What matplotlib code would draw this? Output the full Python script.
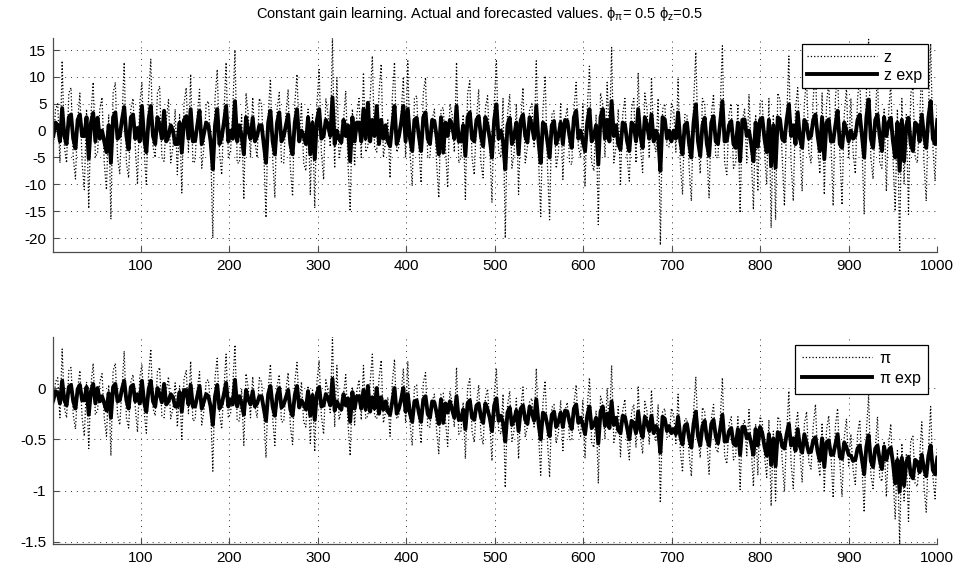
import numpy as np
import matplotlib
matplotlib.use("Agg")
import matplotlib.pyplot as plt

plt.rcParams['font.family'] = ['Liberation Sans', 'DejaVu Sans']
plt.rcParams['mathtext.fontset'] = 'custom'
plt.rcParams['mathtext.rm'] = 'Liberation Sans'
plt.rcParams['mathtext.it'] = 'Liberation Sans'

title = r"Constant gain learning. Actual and forecasted values. $\phi_{\pi}$= 0.5 $\phi_{z}$=0.5"
xticks = [100, 200, 300, 400, 500, 600, 700, 800, 900, 1000]
yticks_top = [-20, -15, -10, -5, 0, 5, 10, 15]
yticks_bot = [-1.5, -1, -0.5, 0]
labels_top = ['z', 'z exp']
labels_bot = [r'$\pi$', r'$\pi$ exp']

z_act = [
    -3, 4, 5, -6, 13, -3, -6, 7, 8, -5, -9, 2, 7, -6, -11, 4, -14.5, 3, 9, -5,
    -4, 4, 6.2, -6, -11, 3, -16.5, 7, 9, -5, -8, 2, 12.7, -6, -8.8, 4, 6, -3, -10, 5,
    9, -4, -10, 6, 13.3, -3, -5, 7, 8.3, -5, -5.7, 2, 5.8, -6, -3, 4, -8.2, 3, -11.6, 5,
    8, -4, 10.5, -6, -5.7, 3, 7.7, -7, -3, 5, 5.5, -2, -20, 6, 11.4, -4, -8.2, 3, 12.7, -5,
    -4, 4, 15, -6, -6, 3, -12.8, 7, 3, -5, 6.2, -2, -5, 6, 4.9, -4, -16.2, 3, 9.6, -5,
    -12.5, 4, 7.1, -6, -6, 3, 7.7, -7, -12.2, 5, 10.5, -2, 5, -6, -7.5, 4, -11.9, 3, -14.4, 5,
    11.4, -4, -9.1, 6, 3, -3, 17.2, -7, 9.9, -5, -2.5, 2, 7.4, -6, -15, 4, -6.6, 3, 6, -5,
    10.8, -4, -3, 6, 13.9, -3, -4, 7, 12.4, -5, -2, 2, -8.8, 6, 12.7, -4, -3, 3, 10, -5,
    13, -4, -10.3, 6, 6.5, -3, -9.7, 7, 9.9, -5, -5, 2, 4, -6, -12.5, 4, 4.3, -3, -10.6, 5,
    3, -4, 12.7, -6, -5, 3, -12.8, 7, 9.3, -5, -8.2, 2, 7.7, -6, -8.8, 4, 6.5, -3, -13.4, 5,
    13, -4, -5, 6, -20, 3, 6.8, -7, -4, 5, -11.9, 2, 8, -6, -3, 4, 5, -3, 13, -5,
    -16, 4, 10.2, -6, -16.6, 3, 3.7, -7, -4, 5, -9.1, 2, 4.3, -6, -6.3, 4, 9, -3, -5, 5,
    -10.3, 4, 12, -6, -7.5, 3, -17.5, 7, 5, -5, 9, -2, 15.5, -6, -3, 4, -10, 3, 6, -5,
    -9.4, 4, 6, -6, 10.8, -3, -7.8, 7, 4, -5, 9.9, -2, -4, 6, -21.3, 4, 5, -3, -3, 5,
    4, -4, 9.6, -6, -11.9, 3, 3, -7, -13.1, 5, 14.6, -2, -8, 6, 5, -4, -12.5, 3, 6.8, -5,
    -5, 4, 15.8, -6, -8.2, 3, 5, -7, -6, 5, -15.3, 2, 4, -6, 6.8, -4, -14.7, 3, -11.3, 5,
    5.5, -4, -10, 6, -18.1, 3, -16.6, 7, 5.8, -5, -14, 2, 13.9, -6, -13.1, 4, 8, -3, -11.3, 5,
    10, -4, -6, 6, 12, -3, -8, 7, -11.9, 5, 9, -2, -14, 6, 11, -4, -13.8, 3, 8, -5,
    6, -4, -8, 6, 10, -3, -15.6, 7, 17, -5, -9, 2, 11, -6, -7, 4, -11.3, 3, 9, -5,
    -15, 4, -22.6, 6, -10, 3, -15.6, 7, 8, -5, -6, 2, 12, -6, -13.1, 4, 16.2, -3, -9.4, 5]

z_exp = [
    -1, 1.5, 1, -2, 4.2, -1, -2.5, 2.5, 3, -1.5, -3.3, 2, 3, -1, -1, 2.5, -5.2, 1.5, 3.3, -2,
    2.4, -1.5, 0, -2, -4, 1, -6, 2.5, 3.4, -1.5, -1, 2, 4.4, -1, -3.5, 2.5, 3, -1.5, 0.5, -2,
    4.6, -1.5, -4, 2, 4.6, -1, -2.5, 2.5, 1, -1.5, 3.7, -2, -1, 1, 0, -2.5, -2.5, 1.5, -4.1, 2,
    2.7, -1.5, 4, -2, -1.9, 1, 3.7, -2.5, -0.5, 1.5, 1, -2, -7.2, 1, 4, -2.5, -1.3, 1.5, 4.6, -2,
    0, -1.5, 5.5, -2, 1, -1, -4.4, 2.5, 0, -1.5, 2.4, -2, -1, 1, 1, -2.5, -6, 1.5, 3.7, -2,
    -4.4, 1.5, 3.4, -2, -1, 1, 3, -2.5, -4.4, 1.5, 4, -2, 0, -1, -2.5, 2.5, -4.4, 1.5, -5.3, 2,
    4, -1.5, -1, 2, 1, -1, 6.2, -2.5, 0, -1.5, -2.2, 2, -1, 1, -5.7, 2.5, -2, 1.5, 1.5, -2,
    4, -1.5, 5.2, -2, 2, -1, 4.6, -2.5, 2, -1.5, 1, -2, -2.9, 1, 4.6, -2.5, -1, 1.5, 4.6, -2,
    4, -1.5, -3.8, 2, 2.4, -1, -3.8, 2.5, 3.4, -1.5, -2.5, 2, 1.8, -1, -4.4, 2.5, -4.1, 1.5, -1, 2,
    1, -1.5, 4.6, -2, -2, 1, -4.7, 2.5, 3.4, -1.5, -2, 2, 2.7, -1, -2.9, 2.5, 1, -1.5, -5, 2,
    4.9, -1.5, 0, -2, -7.2, 1, 2.4, -2.5, -1, 1.5, -4.4, 2, 3, -1, -2.2, 2.5, 1, -1.5, 4.6, -2,
    -6, 1.5, 1, -2, -5, 1, 1.8, -2.5, -1, 1.5, -2.5, 2, 1.8, -1, -3.2, 2.5, 3.7, -1.5, 0, -2,
    -3.8, 1.5, 4, -2, -1, 1, -6.3, 2.5, 4, -1.5, 2, -2, 5.5, -1, 1, -2.5, -3.5, 1.5, 1.2, -2,
    -3.8, 1.5, 1, -2, 4, -1, -3.2, 2.5, 1, -1.5, 3, -2, 0, -1, -7.5, 2.5, 2.1, -1.5, 0, -2,
    0, -1.5, 3.4, -2, -4.4, 1, 1.5, -2.5, -5, 1.5, 4.9, -2, -4.7, 1, 2.4, -2.5, -4.7, 1.5, 2.7, -2,
    -2.5, 1.5, 5.5, -2, -1.9, 1, 1.8, -2.5, -3.2, 1.5, -5.7, 2, 2.1, -1, 0, -2.5, -5.7, 1.5, -3, 2,
    2.4, -1.5, -4, 2, -6.6, 1, -6.9, 2.5, 2.1, -1.5, -2, 2, 4.9, -1, 1, -2.5, 3.4, -1.5, -3.2, 2,
    1.2, -1.5, -1, 2, 3, -1, -3.8, 2.5, -5.3, 1.5, 2.1, -2, -2, 1, 3.7, -2.5, -3.2, 1.5, 0, -2,
    0, -1.5, -1, 2, 3, -1, -5, 2.5, 5.8, -1.5, -3.2, 2, 3, -1, -3.8, 2.5, -1, 1.5, 2.4, -2,
    -5, 1.5, -7.5, 2, -5.7, 1, 2.4, -2.5, -3.8, 1.5, 1, -2, 3, -1, -3.2, 2.5, 5.5, -1.5, -2.5, 2]

pi_act = [
    -0.19, 0.06, 0.10, -0.29, 0.38, -0.19, -0.29, 0.17, 0.20, -0.26, -0.40, -0.01, 0.17, -0.29, -0.47, 0.06, -0.59, 0.03, 0.24, -0.26,
    -0.22, 0.06, 0.14, -0.29, -0.47, 0.03, -0.66, 0.17, 0.24, -0.26, -0.36, -0.01, 0.36, -0.29, -0.39, 0.06, 0.13, -0.19, -0.43, 0.10,
    0.23, -0.23, -0.44, 0.12, 0.38, -0.20, -0.27, 0.16, 0.20, -0.27, -0.29, -0.02, 0.11, -0.30, -0.20, 0.05, -0.38, 0.02, -0.50, 0.09,
    0.17, -0.25, 0.26, -0.32, -0.31, -0.01, 0.16, -0.36, -0.22, 0.07, 0.08, -0.18, -0.81, 0.10, 0.29, -0.25, -0.40, -0.01, 0.33, -0.29,
    -0.25, 0.03, 0.42, -0.32, -0.32, -0.01, -0.56, 0.14, 0.00, -0.29, 0.11, -0.18, -0.29, 0.10, 0.06, -0.25, -0.68, -0.01, 0.23, -0.29,
    -0.56, 0.02, 0.13, -0.33, -0.33, -0.02, 0.15, -0.37, -0.55, 0.06, 0.25, -0.19, 0.06, -0.33, -0.38, 0.02, -0.54, -0.02, -0.62, 0.06,
    0.27, -0.27, -0.45, 0.08, -0.03, -0.24, 0.50, -0.38, 0.22, -0.31, -0.22, -0.06, 0.13, -0.34, -0.66, 0.01, -0.36, -0.03, 0.08, -0.31,
    0.22, -0.30, -0.27, 0.05, 0.33, -0.27, -0.30, 0.09, 0.27, -0.34, -0.23, -0.09, -0.47, 0.05, 0.28, -0.30, -0.27, -0.06, 0.19, -0.34,
    0.26, -0.34, -0.56, 0.01, 0.03, -0.31, -0.54, 0.05, 0.15, -0.38, -0.38, -0.13, -0.06, -0.41, -0.64, -0.06, -0.05, -0.31, -0.57, -0.03,
    -0.14, -0.38, 0.20, -0.45, -0.42, -0.14, -0.69, 0.01, 0.09, -0.42, -0.53, -0.17, 0.03, -0.45, -0.55, -0.10, -0.01, -0.35, -0.71, -0.07,
    0.19, -0.41, -0.45, -0.06, -0.97, -0.17, -0.03, -0.52, -0.41, -0.10, -0.69, -0.20, 0.01, -0.48, -0.38, -0.13, -0.10, -0.38, 0.19, -0.45,
    -0.85, -0.15, 0.07, -0.50, -0.87, -0.19, -0.16, -0.54, -0.43, -0.12, -0.61, -0.22, -0.14, -0.50, -0.51, -0.15, 0.03, -0.40, -0.47, -0.12,
    -0.68, -0.18, 0.10, -0.53, -0.58, -0.22, -0.93, -0.08, -0.15, -0.50, 0.00, -0.39, 0.22, -0.53, -0.43, -0.18, -0.67, -0.22, -0.11, -0.50,
    -0.70, -0.23, -0.16, -0.58, 0.01, -0.48, -0.64, -0.13, -0.23, -0.55, -0.02, -0.44, -0.51, -0.16, -1.12, -0.23, -0.20, -0.48, -0.48, -0.20,
    -0.26, -0.54, -0.06, -0.61, -0.82, -0.30, -0.30, -0.65, -0.86, -0.23, 0.11, -0.47, -0.68, -0.19, -0.23, -0.54, -0.84, -0.30, -0.16, -0.58,
    -0.63, -0.31, 0.10, -0.66, -0.74, -0.35, -0.28, -0.70, -0.66, -0.28, -0.99, -0.38, -0.31, -0.66, -0.21, -0.59, -0.96, -0.35, -0.85, -0.28,
    -0.33, -0.66, -0.87, -0.31, -1.15, -0.42, -1.10, -0.28, -0.32, -0.70, -1.01, -0.45, -0.03, -0.73, -0.98, -0.38, -0.24, -0.63, -0.92, -0.35,
    -0.23, -0.72, -0.79, -0.37, -0.16, -0.69, -0.86, -0.34, -1.00, -0.41, -0.27, -0.65, -1.07, -0.37, -0.20, -0.72, -1.06, -0.48, -0.30, -0.76,
    -0.45, -0.80, -0.94, -0.45, -0.31, -0.77, -1.21, -0.42, -0.07, -0.84, -0.98, -0.59, -0.28, -0.87, -0.91, -0.52, -1.06, -0.56, -0.35, -0.84,
    -1.28, -0.61, -1.52, -0.54, -1.10, -0.65, -1.30, -0.51, -0.47, -0.93, -0.96, -0.68, -0.33, -0.96, -1.21, -0.61, -0.18, -0.86, -1.08, -0.58]

pi_exp = [
    -0.12, -0.03, -0.05, -0.15, 0.07, -0.12, -0.17, 0.01, 0.03, -0.13, -0.20, -0.01, 0.03, -0.12, -0.12, 0.01, -0.26, -0.03, 0.04, -0.15,
    0.00, -0.13, -0.08, -0.15, -0.22, -0.05, -0.29, 0.01, 0.04, -0.13, -0.12, -0.01, 0.07, -0.12, -0.20, 0.01, 0.03, -0.13, -0.06, -0.15,
    0.07, -0.14, -0.23, -0.02, 0.07, -0.13, -0.18, 0.00, -0.06, -0.14, 0.04, -0.16, -0.13, -0.06, -0.09, -0.18, -0.18, -0.04, -0.23, -0.02,
    -0.02, -0.16, 0.03, -0.18, -0.18, -0.08, 0.02, -0.20, -0.13, -0.06, -0.08, -0.18, -0.36, -0.08, 0.03, -0.20, -0.16, -0.06, 0.05, -0.18,
    -0.11, -0.16, 0.08, -0.18, -0.08, -0.15, -0.26, -0.02, -0.11, -0.16, -0.03, -0.18, -0.15, -0.08, -0.08, -0.20, -0.32, -0.06, 0.02, -0.18,
    -0.27, -0.07, 0.00, -0.19, -0.16, -0.09, -0.02, -0.21, -0.27, -0.07, 0.02, -0.19, -0.12, -0.16, -0.21, -0.03, -0.27, -0.07, -0.31, -0.05,
    0.01, -0.18, -0.17, -0.06, -0.10, -0.17, 0.09, -0.22, -0.13, -0.18, -0.21, -0.06, -0.17, -0.10, -0.33, -0.04, -0.20, -0.08, -0.08, -0.20,
    -0.02, -0.21, 0.02, -0.23, -0.09, -0.20, 0.00, -0.25, -0.09, -0.21, -0.13, -0.23, -0.26, -0.13, 0.00, -0.25, -0.20, -0.11, 0.00, -0.23,
    -0.06, -0.25, -0.33, -0.13, -0.12, -0.24, -0.33, -0.11, -0.08, -0.25, -0.29, -0.13, -0.14, -0.24, -0.35, -0.11, -0.34, -0.15, -0.24, -0.13,
    -0.21, -0.29, -0.08, -0.31, -0.31, -0.21, -0.40, -0.15, -0.12, -0.29, -0.31, -0.17, -0.15, -0.28, -0.34, -0.15, -0.21, -0.29, -0.42, -0.17,
    -0.10, -0.32, -0.27, -0.34, -0.52, -0.24, -0.19, -0.36, -0.31, -0.22, -0.42, -0.20, -0.17, -0.31, -0.35, -0.18, -0.24, -0.32, -0.11, -0.34,
    -0.50, -0.24, -0.26, -0.36, -0.47, -0.26, -0.23, -0.38, -0.33, -0.24, -0.38, -0.22, -0.23, -0.33, -0.40, -0.20, -0.16, -0.34, -0.29, -0.36,
    -0.45, -0.27, -0.18, -0.39, -0.36, -0.29, -0.54, -0.23, -0.18, -0.37, -0.25, -0.39, -0.13, -0.36, -0.29, -0.41, -0.44, -0.27, -0.28, -0.39,
    -0.50, -0.32, -0.34, -0.44, -0.23, -0.41, -0.48, -0.28, -0.34, -0.42, -0.27, -0.44, -0.37, -0.41, -0.63, -0.28, -0.30, -0.42, -0.37, -0.44,
    -0.40, -0.45, -0.28, -0.47, -0.55, -0.37, -0.35, -0.49, -0.58, -0.35, -0.23, -0.47, -0.56, -0.37, -0.32, -0.49, -0.56, -0.35, -0.31, -0.47,
    -0.54, -0.40, -0.26, -0.52, -0.52, -0.42, -0.39, -0.54, -0.56, -0.40, -0.65, -0.38, -0.38, -0.49, -0.45, -0.54, -0.65, -0.40, -0.56, -0.38,
    -0.44, -0.57, -0.66, -0.45, -0.75, -0.49, -0.76, -0.43, -0.45, -0.57, -0.59, -0.45, -0.35, -0.56, -0.49, -0.61, -0.40, -0.57, -0.63, -0.45,
    -0.54, -0.63, -0.62, -0.51, -0.48, -0.62, -0.71, -0.49, -0.77, -0.53, -0.51, -0.65, -0.65, -0.55, -0.45, -0.67, -0.69, -0.53, -0.58, -0.65,
    -0.66, -0.71, -0.70, -0.59, -0.56, -0.70, -0.84, -0.57, -0.46, -0.71, -0.77, -0.59, -0.56, -0.70, -0.79, -0.57, -0.70, -0.61, -0.58, -0.73,
    -0.93, -0.70, -1.01, -0.68, -0.95, -0.72, -0.67, -0.84, -0.88, -0.70, -0.72, -0.82, -0.65, -0.79, -0.86, -0.66, -0.56, -0.80, -0.84, -0.68]

t = np.linspace(1, 1000, len(z_act))

W, H = 963, 579
fig = plt.figure(figsize=(W / 100, H / 100), dpi=100)

def px_axes(l, r, top, bot):
    return [l / W, 1 - bot / H, (r - l) / W, (bot - top) / H]

ax1 = fig.add_axes(px_axes(53.3, 937.3, 38.3, 252))
ax2 = fig.add_axes(px_axes(53.3, 937.3, 336.7, 544))

grid_ls = (0, (1, 5))

def style(ax, yt, data_lo, data_hi):
    ax.set_xlim(1, 1000)
    ax.set_ylim(data_lo, data_hi)
    ax.set_xticks(xticks)
    ax.set_yticks(yt)
    ax.set_yticklabels([('%g' % v) for v in yt])
    for s in ['top', 'right']:
        ax.spines[s].set_visible(False)
    for s in ['left', 'bottom']:
        ax.spines[s].set_color('0.3')
        ax.spines[s].set_linewidth(0.9)
    ax.tick_params(direction='in', length=4, width=0.8, color='0.3',
                   labelsize=11, pad=5)
    ax.grid(True, color='0.2', linestyle=grid_ls, linewidth=0.7)
    ax.set_axisbelow(True)

ax1.plot(t, z_act, color='black', linestyle=':', linewidth=0.9, label=labels_top[0])
ax1.plot(t, z_exp, color='black', linestyle='-', linewidth=2.8, label=labels_top[1])
style(ax1, yticks_top, min(z_act), max(z_act))
leg1 = ax1.legend(loc='upper right', bbox_to_anchor=(0.989, 0.973), borderaxespad=0,
                  fancybox=False, framealpha=1, edgecolor='black', fontsize=11.5,
                  handlelength=4.4, handletextpad=0.4, borderpad=0.35, labelspacing=0.2)
leg1.get_frame().set_linewidth(0.9)

ax2.plot(t, pi_act, color='black', linestyle=':', linewidth=0.9, label=labels_bot[0])
ax2.plot(t, pi_exp, color='black', linestyle='-', linewidth=2.8, label=labels_bot[1])
style(ax2, yticks_bot, min(pi_act), max(pi_act))
leg2 = ax2.legend(loc='upper right', bbox_to_anchor=(0.989, 0.962), borderaxespad=0,
                  fancybox=False, framealpha=1, edgecolor='black', fontsize=11.5,
                  handlelength=4.4, handletextpad=0.4, borderpad=0.4, labelspacing=0.3)
leg2.get_frame().set_linewidth(0.9)

fig.text(479 / W, 1 - 14 / H, title, ha='center', va='center', fontsize=10.5)

fig.savefig('out.png', dpi=100)
